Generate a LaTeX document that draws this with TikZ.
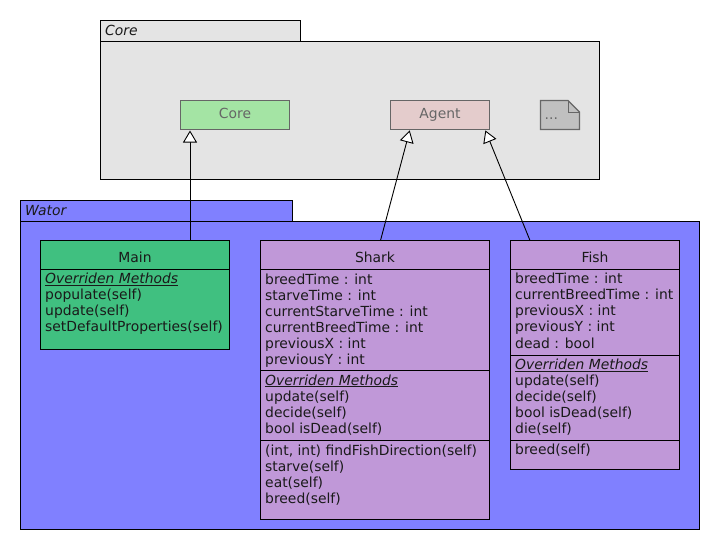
\documentclass[tikz,border=0pt]{standalone}
\usepackage{fontspec}
\setmainfont{DejaVu Sans}
\usetikzlibrary{arrows.meta}
\definecolor{pkgcore}{HTML}{E4E4E4}
\definecolor{pkgwator}{HTML}{8080FF}
\definecolor{mainfill}{HTML}{40C080}
\definecolor{animfill}{HTML}{C098D8}
\definecolor{corefill}{HTML}{A4E4A4}
\definecolor{agentfill}{HTML}{E4CCCC}
\definecolor{notefill}{HTML}{C0C0C0}
\definecolor{greyline}{HTML}{666666}
\definecolor{txtcol}{HTML}{1A1A1A}
\tikzset{
  pkg/.style={draw=black, line width=1pt, rectangle, inner sep=0pt, outer sep=0pt, anchor=north west},
  cls/.style={draw=black, line width=1pt, rectangle, inner sep=0pt, outer sep=0pt, anchor=north west},
  extcls/.style={draw=greyline, line width=1pt, rectangle, inner sep=0pt, outer sep=0pt, anchor=north west,
     text=greyline, font=\fontsize{13.9}{16}\selectfont},
  txt/.style={anchor=base west, inner sep=0pt, text=txtcol, font=\fontsize{13.9}{16}\selectfont},
  ttl/.style={anchor=base, inner sep=0pt, text=txtcol, font=\fontsize{13.9}{16}\selectfont},
  pkglbl/.style={anchor=base west, inner sep=0pt, text=txtcol, font=\fontsize{13.9}{16}\selectfont\itshape},
  divider/.style={draw=black, line width=1pt},
  inh/.style={draw=black, line width=0.9pt, -{Triangle[length=12pt, width=14pt, fill=white, line width=0.9pt]}, shorten >=1pt},
}
\newcommand{\ovm}{\underline{\itshape Overriden Methods}}
\begin{document}
\begin{tikzpicture}[x=1pt, y=-1pt]
\useasboundingbox[fill=white] (0,0) rectangle (720,550);
% Core package
\node[pkg, fill=pkgcore, minimum width=200pt, minimum height=21pt] (coretab) at (100.5,20.5) {};
\node[pkg, fill=pkgcore, minimum width=499pt, minimum height=138pt] (corepkg) at (100.5,41.5) {};
\node[pkglbl] (corelbl) at (105,35) {Core};
% Core classes
\node[extcls, fill=corefill, minimum width=109pt, minimum height=29pt] (corecls) at (180.5,100.5) {};
\node[anchor=base, inner sep=0pt, text=greyline, font=\fontsize{13.9}{16}\selectfont] (coretxt) at (235,118) {Core};
\node[extcls, fill=agentfill, minimum width=99pt, minimum height=29pt] (agent) at (390.5,100.5) {};
\node[anchor=base, inner sep=0pt, text=greyline, font=\fontsize{13.9}{16}\selectfont] (agenttxt) at (440,118) {Agent};
% note
\draw[draw=greyline, line width=1.3pt, fill=notefill] (540.5,100.5) -- (568,100.5) -- (579.5,112) -- (579.5,129.5) -- (540.5,129.5) -- cycle;
\draw[draw=greyline, line width=1pt] (568,100.5) -- (568,112) -- (579.5,112);
\node[anchor=base west, inner sep=0pt, text=greyline, font=\fontsize{13.9}{16}\selectfont] (note) at (544.5,119) {...};
% Wator package
\node[pkg, fill=pkgwator, minimum width=272pt, minimum height=21pt] (watortab) at (20.5,200.5) {};
\node[pkg, fill=pkgwator, minimum width=679pt, minimum height=308pt] (watorpkg) at (20.5,221.5) {};
\node[pkglbl] (watorlbl) at (25,215.5) {Wator};
% Main
\node[cls, fill=mainfill, minimum width=189pt, minimum height=109pt] (main) at (40.5,240.5) {};
\draw[divider] (40.5,269.5) -- (229.5,269.5);
\node[ttl] (maint) at (135,262) {Main};
\node[txt] (m1) at (45,283.5) {\ovm};
\node[txt] (m2) at (45,299.5) {populate(self)};
\node[txt] (m3) at (45,315.5) {update(self)};
\node[txt] (m4) at (45,331.5) {setDefaultProperties(self)};
% Shark
\node[cls, fill=animfill, minimum width=229pt, minimum height=279pt] (shark) at (260.5,240.5) {};
\draw[divider] (260.5,269.5) -- (489.5,269.5);
\draw[divider] (260.5,370.5) -- (489.5,370.5);
\draw[divider] (260.5,440.5) -- (489.5,440.5);
\node[ttl] (sharkt) at (375,262.5) {Shark};
\node[txt] (s1) at (265,284.5) {breedTime : int};
\node[txt] (s2) at (265,300.5) {starveTime : int};
\node[txt] (s3) at (265,316.5) {currentStarveTime : int};
\node[txt] (s4) at (265,332.5) {currentBreedTime : int};
\node[txt] (s5) at (265,348.5) {previousX : int};
\node[txt] (s6) at (265,364.5) {previousY : int};
\node[txt] (s7) at (265,385) {\ovm};
\node[txt] (s8) at (265,401) {update(self)};
\node[txt] (s9) at (265,417) {decide(self)};
\node[txt] (s10) at (265,433) {bool isDead(self)};
\node[txt] (s11) at (265,455) {(int, int) findFishDirection(self)};
\node[txt] (s12) at (265,471) {starve(self)};
\node[txt] (s13) at (265,487) {eat(self)};
\node[txt] (s14) at (265,503) {breed(self)};
% Fish
\node[cls, fill=animfill, minimum width=169pt, minimum height=229pt] (fish) at (510.5,240.5) {};
\draw[divider] (510.5,269.5) -- (679.5,269.5);
\draw[divider] (510.5,355.5) -- (679.5,355.5);
\draw[divider] (510.5,440.5) -- (679.5,440.5);
\node[ttl] (fisht) at (595,262) {Fish};
\node[txt] (f1) at (515,283.5) {breedTime : int};
\node[txt] (f2) at (515,299.5) {currentBreedTime : int};
\node[txt] (f3) at (515,315.5) {previousX : int};
\node[txt] (f4) at (515,331.5) {previousY : int};
\node[txt] (f5) at (515,348) {dead : bool};
\node[txt] (f6) at (515,369.5) {\ovm};
\node[txt] (f7) at (515,385.5) {update(self)};
\node[txt] (f8) at (515,401.5) {decide(self)};
\node[txt] (f9) at (515,417.5) {bool isDead(self)};
\node[txt] (f10) at (515,433.5) {die(self)};
\node[txt] (f11) at (515,454.5) {breed(self)};
% inheritance
\draw[inh] ([xshift=149.5pt]main.north west) -- ([xshift=9.5pt]corecls.south west);
\draw[inh] ([xshift=120pt]shark.north west) -- ([xshift=19.5pt]agent.south west);
\draw[inh] ([xshift=19.5pt]fish.north west) -- ([xshift=94.5pt]agent.south west);
\end{tikzpicture}
\end{document}
